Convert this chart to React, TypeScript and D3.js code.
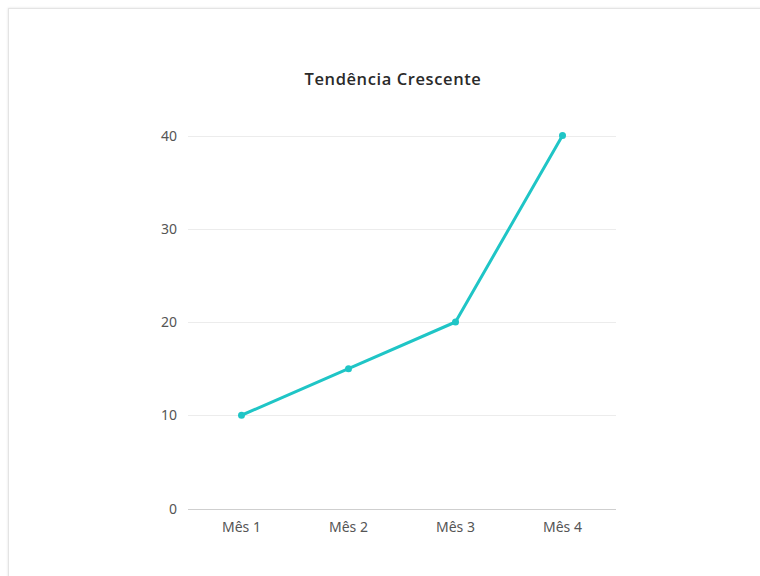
import React from "react";
import * as d3 from "d3";

const months: string[] = ["Mês 1", "Mês 2", "Mês 3", "Mês 4"];
const values: number[] = [10, 15, 20, 40];
const yTicks: number[] = [0, 10, 20, 30, 40];
const title = "Tendência Crescente";

const W = 760;
const H = 576;
const plot = { left: 188, right: 616, top: 135.5, bottom: 508.5 };
const lineColor = "#1fc5c6";

export default function App() {
  const x = d3
    .scaleBand<string>()
    .domain(months)
    .range([plot.left, plot.right])
    .padding(0);
  const y = d3.scaleLinear().domain([0, 40]).range([plot.bottom, plot.top]);
  const cx = (m: string) => (x(m) ?? 0) + x.bandwidth() / 2;

  const line = d3
    .line<number>()
    .x((_, i) => cx(months[i]))
    .y((v) => y(v));

  return (
    <svg
      width={W}
      height={H}
      style={{ position: "absolute", left: 0, top: 0, display: "block" }}
    >
      <rect x={0} y={0} width={W} height={H} fill="#ffffff" />
      <defs>
        <filter id="cardShadow" x="-5%" y="-5%" width="110%" height="110%">
          <feDropShadow dx="0" dy="0" stdDeviation="1.2" floodColor="#000" floodOpacity="0.12" />
        </filter>
      </defs>
      {/* card */}
      <rect
        x={8.5}
        y={8.5}
        width={W + 20}
        height={H + 20}
        fill="#ffffff"
        stroke="#e4e4e4"
        strokeWidth={1}
        filter="url(#cardShadow)"
      />

      <text
        x={393}
        y={85}
        textAnchor="middle"
        fontFamily="'Open Sans', sans-serif"
        fontWeight={600}
        fontSize={16.5}
        letterSpacing={0.6}
        fill="#2a2a2a"
      >
        {title}
      </text>

      {/* horizontal grid and tick labels */}
      {yTicks.map((t) => (
        <g key={t}>
          <line
            x1={plot.left}
            x2={plot.right}
            y1={Math.round(y(t)) + 0.5}
            y2={Math.round(y(t)) + 0.5}
            stroke={t === 0 ? "#cfcfcf" : "#ececec"}
            strokeWidth={1}
          />
          <text
            x={177}
            y={y(t) + 5}
            textAnchor="end"
            fontFamily="'Noto Sans', sans-serif"
            fontSize={14}
            fill="#555"
          >
            {t}
          </text>
        </g>
      ))}

      {/* category labels */}
      {months.map((m) => (
        <text
          key={m}
          x={cx(m)}
          y={532}
          textAnchor="middle"
          fontFamily="'Noto Sans', sans-serif"
          fontSize={14}
          fill="#555"
        >
          {m}
        </text>
      ))}

      <path
        d={line(values) ?? ""}
        fill="none"
        stroke={lineColor}
        strokeWidth={3}
        strokeLinejoin="round"
        strokeLinecap="round"
      />
      {values.map((v, i) => (
        <circle key={i} cx={cx(months[i])} cy={y(v)} r={3.5} fill={lineColor} />
      ))}
    </svg>
  );
}
